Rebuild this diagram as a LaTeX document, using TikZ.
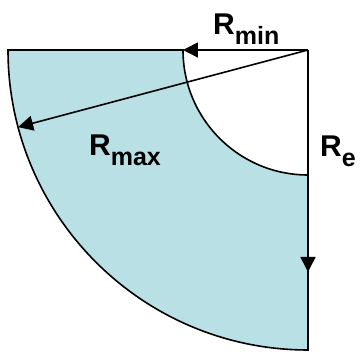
\documentclass[tikz,border=0pt]{standalone}
\usepackage{fontspec}
\setmainfont{Liberation Sans}
\usetikzlibrary{arrows.meta,calc}
\definecolor{ringfill}{RGB}{185,224,228}
\newcommand{\radlabel}[2]{{\fontsize{30}{30}\selectfont\bfseries #1}\raisebox{-10pt}{\fontsize{25}{25}\selectfont\bfseries #2}}
\tikzset{
  outline/.style={draw=black,line width=1.6pt,fill=ringfill},
  radarrow/.style={draw=black,line width=1.6pt,-{Triangle[length=15pt,width=15pt]}},
  lbl/.style={anchor=base west,inner sep=0pt,text=black}
}
\begin{document}
\begin{tikzpicture}[x=1pt,y=1pt]
\useasboundingbox (0,0) rectangle (360,352);
\coordinate (C) at (308,302);
\coordinate (OT) at (8,302);
\coordinate (IT) at (183,302);
\coordinate (OB) at (308,2);
\coordinate (Pmax) at ($(C)+(194.9:300)$);
\coordinate (Pe) at (308,80);
% shaded region
\path[outline] (OT) -- (IT) arc[start angle=180,end angle=270,radius=125] -- (OB) arc[start angle=270,end angle=180,radius=300] -- cycle;
% vertical edge of the hole
\draw[line width=1.6pt] (C) -- (308,177);
% arrows
\draw[radarrow] (C) -- (IT);
\draw[radarrow] (C) -- (Pmax);
\draw[radarrow] (C) -- (Pe);
% labels
\node[lbl] (Lmin) at (213,317) {\radlabel{R}{min}};
\node[lbl] (Lmax) at (89,196) {\radlabel{R}{max}};
\node[lbl] (Le) at (320,195) {\radlabel{R}{e}};
\end{tikzpicture}
\end{document}
